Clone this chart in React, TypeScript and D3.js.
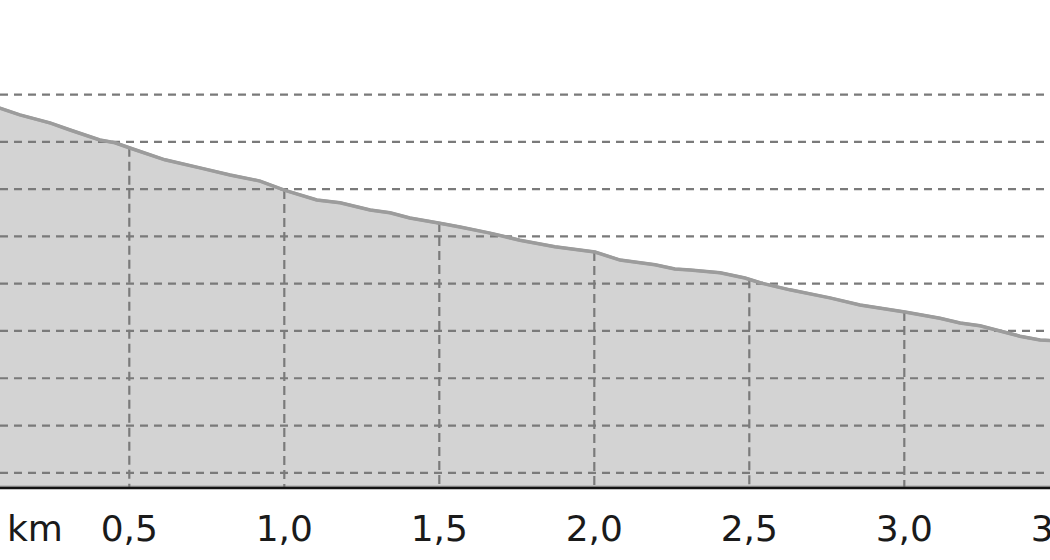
import React from "react";
import * as d3 from "d3";

const distanceKm = [0, 0.083, 0.147, 0.244, 0.309, 0.405, 0.454, 0.502, 0.615, 0.728, 0.825, 0.922, 1.0, 1.105, 1.18, 1.277, 1.341, 1.405, 1.502, 1.567, 1.664, 1.76, 1.873, 2.002, 2.083, 2.196, 2.26, 2.309, 2.406, 2.486, 2.535, 2.631, 2.76, 2.857, 3.002, 3.115, 3.18, 3.244, 3.309, 3.373, 3.438, 3.5];
const elevationM = [278.2, 277.1, 275.7, 274.0, 272.5, 270.4, 269.8, 268.7, 266.2, 264.5, 263.0, 261.7, 259.8, 257.7, 257.1, 255.6, 255.0, 253.9, 252.8, 252.0, 250.7, 249.2, 247.8, 246.7, 245.0, 244.0, 243.1, 242.9, 242.3, 241.2, 240.2, 238.7, 237.0, 235.5, 234.0, 232.7, 231.7, 231.1, 230.0, 228.9, 228.1, 227.9];
const gridElevations = [200, 210, 220, 230, 240, 250, 260, 270, 280];
const tickKm = [0.5, 1.0, 1.5, 2.0, 2.5, 3.0, 3.5];
const unitLabel = "km";

const W = 1050;
const H = 560;
const AXIS_Y = 487;

export default function App() {
  const x = d3.scaleLinear().domain([0, 3.5]).range([-25.7, 1059.3]);
  const y = d3.scaleLinear().domain([197, 300]).range([AXIS_Y, 0]);
  const pts = distanceKm.map((d, i) => ({ d, e: elevationM[i] }));

  const area = d3
    .area<{ d: number; e: number }>()
    .x((p) => x(p.d))
    .y0(AXIS_Y)
    .y1((p) => y(p.e));
  const line = d3
    .line<{ d: number; e: number }>()
    .x((p) => x(p.d))
    .y((p) => y(p.e));

  const bis = d3.bisector((p: { d: number; e: number }) => p.d).left;
  const elevAt = (km: number) => {
    const i = Math.max(1, Math.min(pts.length - 1, bis(pts, km)));
    const a = pts[i - 1];
    const b = pts[i];
    const t = (km - a.d) / (b.d - a.d);
    return a.e + (b.e - a.e) * t;
  };
  const fmt = (v: number) => d3.format(".1f")(v).replace(".", ",");

  return (
    <svg
      width={W}
      height={H}
      style={{ position: "absolute", left: 0, top: 0, background: "#fff" }}
      fontFamily="DejaVu Sans, sans-serif"
    >
      <path d={area(pts) || ""} fill="#d3d3d3" stroke="#a6a6a6" strokeWidth={3} />
      {gridElevations.map((g) => (
        <line
          key={"h" + g}
          x1={0}
          x2={W}
          y1={y(g)}
          y2={y(g)}
          stroke="#7a7a7a"
          strokeWidth={2.2}
          strokeDasharray="8,6"
        />
      ))}
      {tickKm.map((k) => (
        <line
          key={"v" + k}
          x1={x(k)}
          x2={x(k)}
          y1={y(elevAt(k))}
          y2={AXIS_Y}
          stroke="#7a7a7a"
          strokeWidth={2.2}
          strokeDasharray="9,5"
        />
      ))}
      <path d={line(pts) || ""} fill="none" stroke="#9c9c9c" strokeWidth={3.5} />
      <line x1={0} x2={W} y1={AXIS_Y + 1} y2={AXIS_Y + 1} stroke="#111" strokeWidth={2.6} />
      {tickKm.map((k) => (
        <text key={"t" + k} x={x(k)} y={541} textAnchor="middle" fontSize={36} fill="#1a1a1a">
          {fmt(k)}
        </text>
      ))}
      <text x={7} y={541} fontSize={36} fill="#1a1a1a">
        {unitLabel}
      </text>
    </svg>
  );
}
